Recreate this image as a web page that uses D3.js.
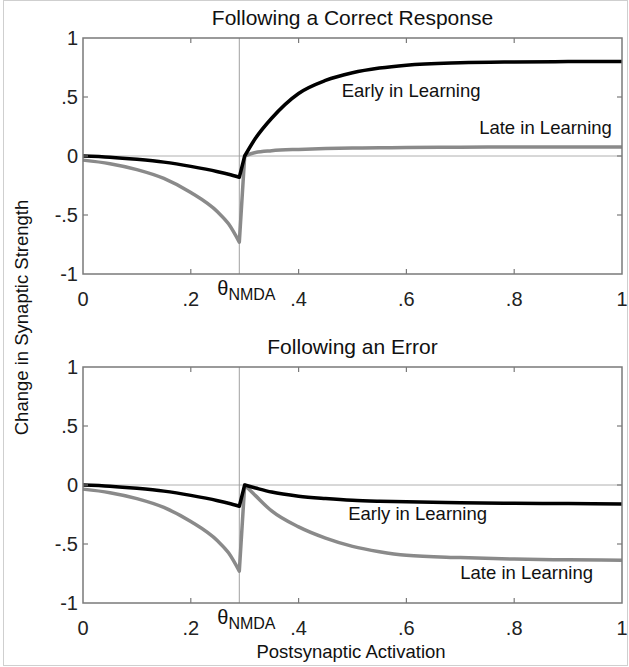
<!DOCTYPE html>
<html>
<head>
<meta charset="utf-8">
<script src="https://cdn.jsdelivr.net/npm/d3@7"></script>
<style>
  html, body { margin: 0; padding: 0; background: #fff; }
  svg { display: block; font-family: "Liberation Sans", Arial, sans-serif; }
</style>
</head>
<body>
<svg id="chart" width="629" height="667"></svg>
<script>
// ---------------- data ----------------
const theta = 0.29;
const xPre  = [0, 0.05, 0.10, 0.15, 0.20, 0.25, 0.27, 0.29];
const xPost = [0.30, 0.32, 0.35, 0.40, 0.45, 0.50, 0.55, 0.60, 0.70, 0.80, 0.90, 1.00];

// below threshold (same in both panels)
const preEarly = [0, -0.010, -0.028, -0.052, -0.088, -0.133, -0.155, -0.18];
const preLate  = [-0.035, -0.065, -0.115, -0.19, -0.31, -0.475, -0.575, -0.73];

// following a correct response
const correctEarlyPost = [0, 0.15, 0.32, 0.53, 0.64, 0.705, 0.745, 0.77, 0.79, 0.797, 0.80, 0.80];
const correctLatePost  = [0, 0.03, 0.045, 0.056, 0.063, 0.067, 0.07, 0.072, 0.075, 0.076, 0.077, 0.077];

// following an error
const errorEarlyPost = [0, -0.025, -0.06, -0.095, -0.115, -0.13, -0.138, -0.143, -0.15, -0.155, -0.157, -0.16];
const errorLatePost  = [0, -0.09, -0.22, -0.355, -0.45, -0.52, -0.565, -0.595, -0.615, -0.628, -0.634, -0.637];

const xTickValues = [0, 0.2, 0.4, 0.6, 0.8, 1];
const xTickLabels = ["0", ".2", ".4", ".6", ".8", "1"];
const yTickValues = [1, 0.5, 0, -0.5, -1];
const yTickLabels = ["1", ".5", "0", "-.5", "-1"];

const panels = [
  { title: "Following a Correct Response", early: correctEarlyPost, late: correctLatePost,
    earlyLabel: [0.48, 0.50], lateLabel: [0.735, 0.186] },
  { title: "Following an Error", early: errorEarlyPost, late: errorLatePost,
    earlyLabel: [0.492, -0.297], lateLabel: [0.70, -0.80] }
];

// ---------------- layout ----------------
const svg = d3.select("#chart");
const left = 83, right = 622;
const panelTops = [38, 367];
const panelH = 236;
const axisColor = "#7a7a7a";

svg.append("rect").attr("x", 3.5).attr("y", 0.5).attr("width", 624).attr("height", 665)
  .attr("fill", "none").attr("stroke", "#cfcfcf").attr("stroke-width", 1);

const x = d3.scaleLinear().domain([0, 1]).range([left, right]);

panels.forEach((p, i) => {
  const top = panelTops[i], bot = top + panelH;
  const y = d3.scaleLinear().domain([-1, 1]).range([bot, top]);
  const g = svg.append("g");

  // title
  g.append("text").attr("x", (left + right) / 2).attr("y", top - 13)
    .attr("text-anchor", "middle").attr("font-size", 21).attr("fill", "#111").text(p.title);

  // zero line and threshold line
  g.append("line").attr("x1", x(0)).attr("x2", x(1)).attr("y1", y(0)).attr("y2", y(0))
    .attr("stroke", "#b0b0b0").attr("stroke-width", 1);
  g.append("line").attr("x1", x(theta)).attr("x2", x(theta)).attr("y1", y(1)).attr("y2", y(-1))
    .attr("stroke", "#a0a0a0").attr("stroke-width", 1);

  // curves
  const line = d3.line().x(d => x(d[0])).y(d => y(d[1])).curve(d3.curveMonotoneX);
  const build = (pre, post) => {
    const a = line(xPre.map((v, k) => [v, pre[k]]));
    const b = line(xPost.map((v, k) => [v, post[k]]));
    return a + "L" + b.slice(1);
  };
  g.append("path").attr("d", build(preLate, p.late)).attr("fill", "none")
    .attr("stroke", "#8a8a8a").attr("stroke-width", 3.5).attr("stroke-linejoin", "round");
  g.append("path").attr("d", build(preEarly, p.early)).attr("fill", "none")
    .attr("stroke", "#000").attr("stroke-width", 3.5).attr("stroke-linejoin", "round");

  // frame
  g.append("rect").attr("x", x(0)).attr("y", y(1)).attr("width", x(1) - x(0)).attr("height", y(-1) - y(1))
    .attr("fill", "none").attr("stroke", axisColor).attr("stroke-width", 1.5);

  // inward ticks
  const tl = 5;
  xTickValues.slice(1, -1).forEach(v => {
    g.append("line").attr("x1", x(v)).attr("x2", x(v)).attr("y1", bot).attr("y2", bot - tl)
      .attr("stroke", axisColor).attr("stroke-width", 1.2);
    g.append("line").attr("x1", x(v)).attr("x2", x(v)).attr("y1", top).attr("y2", top + tl)
      .attr("stroke", axisColor).attr("stroke-width", 1.2);
  });
  yTickValues.slice(1, -1).forEach(v => {
    g.append("line").attr("x1", left).attr("x2", left + tl).attr("y1", y(v)).attr("y2", y(v))
      .attr("stroke", axisColor).attr("stroke-width", 1.2);
    g.append("line").attr("x1", right).attr("x2", right - tl).attr("y1", y(v)).attr("y2", y(v))
      .attr("stroke", axisColor).attr("stroke-width", 1.2);
  });

  // tick labels
  xTickValues.forEach((v, k) => {
    g.append("text").attr("x", x(v)).attr("y", bot + 32).attr("text-anchor", "middle")
      .attr("font-size", 20).attr("fill", "#222").text(xTickLabels[k]);
  });
  yTickValues.forEach((v, k) => {
    g.append("text").attr("x", left - 5).attr("y", y(v)).attr("dy", "0.36em").attr("text-anchor", "end")
      .attr("font-size", 20).attr("fill", "#222").text(yTickLabels[k]);
  });

  // theta label
  const t = g.append("text").attr("x", x(theta) - 22).attr("y", bot + 21)
    .attr("font-size", 20).attr("fill", "#111");
  t.append("tspan").text("θ");
  t.append("tspan").attr("dy", 5).attr("font-size", 16).text("NMDA");

  // series labels
  g.append("text").attr("x", x(p.earlyLabel[0])).attr("y", y(p.earlyLabel[1]))
    .attr("font-size", 18.5).attr("fill", "#111").text("Early in Learning");
  g.append("text").attr("x", x(p.lateLabel[0])).attr("y", y(p.lateLabel[1]))
    .attr("font-size", 18.5).attr("fill", "#111").text("Late in Learning");
});

// axis titles
svg.append("text").attr("transform", "translate(28,317.5) rotate(-90)")
  .attr("text-anchor", "middle").attr("font-size", 18.5).attr("fill", "#111")
  .text("Change in Synaptic Strength");
svg.append("text").attr("x", 351).attr("y", 658).attr("text-anchor", "middle")
  .attr("font-size", 18.5).attr("fill", "#111").text("Postsynaptic Activation");
</script>
</body>
</html>
